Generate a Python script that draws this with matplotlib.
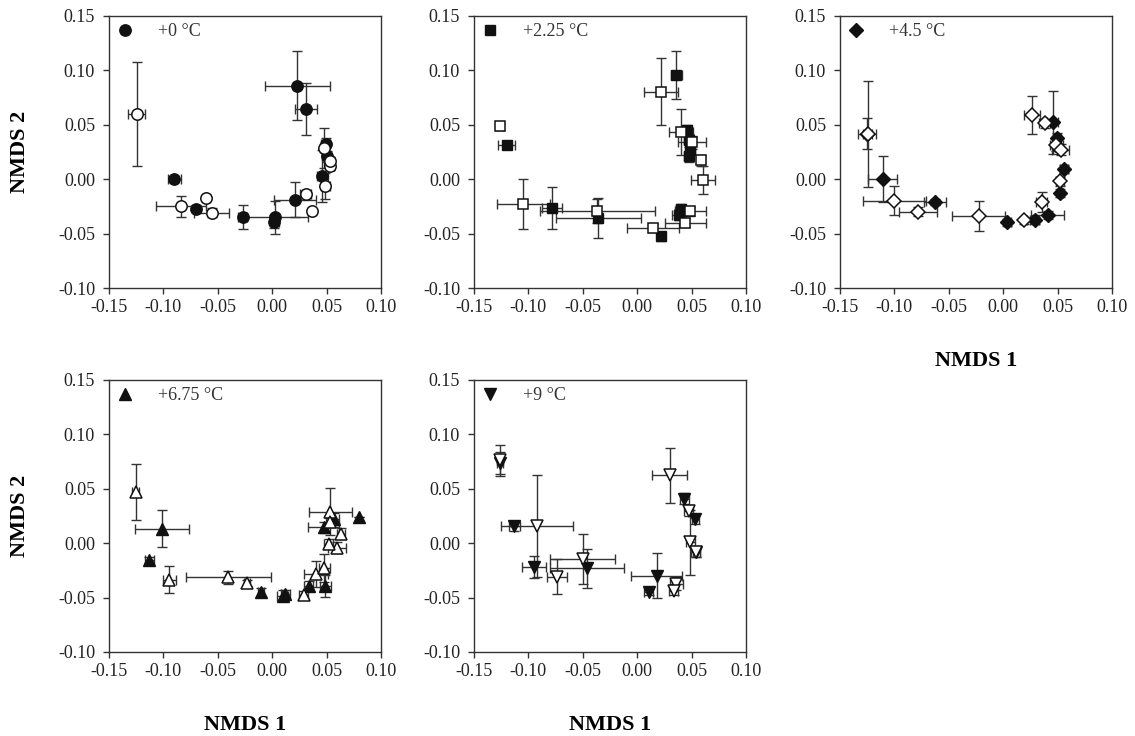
import matplotlib
matplotlib.use("Agg")
import matplotlib.pyplot as plt
from matplotlib.ticker import FormatStrFormatter, MultipleLocator
from matplotlib.lines import Line2D

plt.rcParams['font.family'] = ['Liberation Serif', 'DejaVu Serif']
plt.rcParams['axes.unicode_minus'] = False

# +0 °C (circles)
x0_fill = [0.023, 0.031, -0.090, -0.070, -0.027, 0.003, 0.002, 0.021, 0.046, 0.050, 0.049]
y0_fill = [0.086, 0.0645, 0.0003, -0.027, -0.0346, -0.035, -0.039, -0.0187, 0.003, 0.021, 0.032]
xe0_fill = [0.030, 0.0098, 0.006, 0.003, 0.004, 0.030, 0.004, 0.019, 0.005, 0.004, 0.004]
ye0_fill = [0.0315, 0.024, 0.003, 0.003, 0.011, 0.015, 0.006, 0.016, 0.024, 0.005, 0.006]
x0_open = [-0.1245, -0.0837, -0.0607, -0.0555, 0.031, 0.0365, 0.0488, 0.0534, 0.0534, 0.0473]
y0_open = [0.060, -0.0248, -0.0171, -0.0309, -0.0135, -0.0294, -0.0064, 0.0125, 0.0165, 0.0287]
xe0_open = [0.0077, 0.023, 0.003, 0.016, 0.005, 0.003, 0.004, 0.003, 0.003, 0.003]
ye0_open = [0.048, 0.0098, 0.003, 0.004, 0.004, 0.003, 0.012, 0.004, 0.004, 0.018]

# +2.25 °C (squares)
x1_fill = [0.036, -0.120, -0.0785, -0.0356, 0.022, 0.038, 0.040, 0.0457, 0.0472, 0.0472, 0.0488]
y1_fill = [0.0956, 0.0317, -0.0265, -0.0356, -0.0525, -0.0326, -0.0277, 0.0454, 0.036, 0.021, 0.027]
xe1_fill = [0.005, 0.0077, 0.009, 0.039, 0.004, 0.006, 0.004, 0.004, 0.004, 0.004, 0.004]
ye1_fill = [0.022, 0.003, 0.019, 0.018, 0.004, 0.005, 0.005, 0.004, 0.006, 0.005, 0.004]
x1_open = [-0.126, -0.1046, -0.0365, 0.022, 0.0144, 0.040, 0.0503, 0.0586, 0.0604, 0.0488, 0.0442]
y1_open = [0.0485, -0.0228, -0.029, 0.0806, -0.0448, 0.0433, 0.0338, 0.0173, -0.0005, -0.0295, -0.040]
xe1_open = [0.003, 0.024, 0.053, 0.0157, 0.0236, 0.011, 0.013, 0.004, 0.011, 0.014, 0.019]
ye1_open = [0.003, 0.023, 0.011, 0.031, 0.004, 0.021, 0.006, 0.005, 0.013, 0.004, 0.004]

# +4.5 °C (diamonds)
x2_fill = [-0.125, -0.1109, -0.0628, 0.0038, 0.029, 0.041, 0.052, 0.0558, 0.0457, 0.0494]
y2_fill = [0.042, 0.0004, -0.021, -0.0396, -0.0378, -0.033, -0.0127, 0.0094, 0.0524, 0.0378]
xe2_fill = [0.008, 0.013, 0.010, 0.003, 0.004, 0.015, 0.003, 0.004, 0.005, 0.004]
ye2_fill = [0.0145, 0.021, 0.003, 0.003, 0.003, 0.004, 0.004, 0.004, 0.029, 0.005]
x2_open = [-0.1246, -0.1002, -0.0787, -0.0225, 0.019, 0.0356, 0.0264, 0.038, 0.0488, 0.0528, 0.0522]
y2_open = [0.0417, -0.0197, -0.030, -0.034, -0.0378, -0.021, 0.0592, 0.0515, 0.0317, 0.027, -0.002]
xe2_open = [0.004, 0.029, 0.0175, 0.0245, 0.003, 0.005, 0.007, 0.005, 0.006, 0.008, 0.004]
ye2_open = [0.049, 0.013, 0.004, 0.014, 0.003, 0.009, 0.0175, 0.004, 0.006, 0.005, 0.004]

# +6.75 °C (triangles up)
x3_fill = [-0.1015, -0.113, -0.0104, 0.0098, 0.012, 0.0334, 0.0472, 0.0488, 0.0564, 0.080]
y3_fill = [0.0132, -0.0153, -0.0451, -0.0482, -0.047, -0.039, 0.0147, -0.039, 0.0224, 0.0239]
xe3_fill = [0.025, 0.004, 0.003, 0.005, 0.004, 0.004, 0.014, 0.005, 0.005, 0.0]
ye3_fill = [0.017, 0.003, 0.004, 0.005, 0.004, 0.004, 0.005, 0.010, 0.005, 0.0]
x3_open = [-0.1255, -0.0948, -0.0402, -0.0233, 0.0288, 0.0405, 0.048, 0.0534, 0.0632, 0.0595, 0.0534, 0.052]
y3_open = [0.0469, -0.0334, -0.0313, -0.0365, -0.0475, -0.0282, -0.023, 0.0291, 0.0086, -0.0043, 0.0193, -0.0004]
xe3_open = [0.003, 0.006, 0.039, 0.003, 0.004, 0.011, 0.005, 0.020, 0.004, 0.008, 0.004, 0.004]
ye3_open = [0.0255, 0.0126, 0.006, 0.003, 0.004, 0.012, 0.013, 0.022, 0.005, 0.005, 0.004, 0.004]

# +9 °C (triangles down)
x4_fill = [-0.126, -0.113, -0.0948, -0.0457, 0.018, 0.0104, 0.0433, 0.0534, 0.0543]
y4_fill = [0.074, 0.0156, -0.022, -0.023, -0.0297, -0.045, 0.0408, 0.0218, -0.0083]
xe4_fill = [0.003, 0.005, 0.011, 0.034, 0.0236, 0.004, 0.004, 0.003, 0.003]
ye4_fill = [0.010, 0.004, 0.010, 0.018, 0.0206, 0.003, 0.005, 0.004, 0.004]
x4_open = [-0.126, -0.0923, -0.0739, -0.050, 0.0298, 0.0472, 0.0488, 0.0537, 0.0359, 0.0334]
y4_open = [0.0761, 0.0156, -0.0307, -0.0144, 0.0623, 0.030, 0.0009, -0.0083, -0.0374, -0.0436]
xe4_open = [0.003, 0.033, 0.009, 0.030, 0.016, 0.004, 0.004, 0.004, 0.006, 0.004]
ye4_open = [0.014, 0.047, 0.016, 0.023, 0.025, 0.005, 0.030, 0.004, 0.006, 0.004]

labels = ['+0 °C', '+2.25 °C', '+4.5 °C', '+6.75 °C', '+9 °C']
markers = ['o', 's', 'D', '^', 'v']
msizes = [8.2, 7.4, 7.0, 8.4, 8.4]

panels = [
    (x0_fill, y0_fill, xe0_fill, ye0_fill, x0_open, y0_open, xe0_open, ye0_open),
    (x1_fill, y1_fill, xe1_fill, ye1_fill, x1_open, y1_open, xe1_open, ye1_open),
    (x2_fill, y2_fill, xe2_fill, ye2_fill, x2_open, y2_open, xe2_open, ye2_open),
    (x3_fill, y3_fill, xe3_fill, ye3_fill, x3_open, y3_open, xe3_open, ye3_open),
    (x4_fill, y4_fill, xe4_fill, ye4_fill, x4_open, y4_open, xe4_open, ye4_open),
]

W, H = 1135, 736
fig = plt.figure(figsize=(W / 100, H / 100), dpi=100)

# axes boxes in pixels: left, top
boxes = [(109, 16), (474, 16), (840, 16), (109, 380), (474, 380)]
size = 272

ink = '#111111'
for i, (xf, yf, xef, yef, xo, yo, xeo, yeo) in enumerate(panels):
    left, top = boxes[i]
    ax = fig.add_axes([left / W, 1 - (top + size) / H, size / W, size / H])
    for xs, ys, xe, ye in [(xf, yf, xef, yef), (xo, yo, xeo, yeo)]:
        ax.errorbar(xs, ys, xerr=xe, yerr=ye, fmt='none', ecolor='#333333',
                    elinewidth=1.0, capsize=3.8, capthick=1.0, zorder=2)
    ax.plot(xf, yf, linestyle='none', marker=markers[i], markersize=msizes[i],
            markerfacecolor=ink, markeredgecolor=ink, markeredgewidth=1.0, zorder=3)
    ax.plot(xo, yo, linestyle='none', marker=markers[i], markersize=msizes[i],
            markerfacecolor='white', markeredgecolor=ink, markeredgewidth=1.1, zorder=4)

    ax.set_xlim(-0.15, 0.10)
    ax.set_ylim(-0.10, 0.15)
    ax.xaxis.set_major_locator(MultipleLocator(0.05))
    ax.yaxis.set_major_locator(MultipleLocator(0.05))
    ax.xaxis.set_major_formatter(FormatStrFormatter('%.2f'))
    ax.yaxis.set_major_formatter(FormatStrFormatter('%.2f'))
    ax.tick_params(direction='out', length=4, width=1.0, color='#333333',
                   labelsize=13, labelcolor='#222222')
    ax.tick_params(axis='x', pad=4)
    ax.tick_params(axis='y', pad=6)
    for sp in ax.spines.values():
        sp.set_linewidth(1.0)
        sp.set_color('#333333')

    handle = Line2D([], [], linestyle='none', marker=markers[i], markersize=msizes[i],
                    markerfacecolor=ink, markeredgecolor=ink)
    leg = ax.legend([handle], [labels[i]], loc='upper left', frameon=False,
                    fontsize=13, handletextpad=1.3, borderaxespad=0.1,
                    borderpad=0.3, handlelength=1.0)
    for t in leg.get_texts():
        t.set_color('#333333')

    if i in (0, 3):
        ax.set_ylabel('NMDS 2', fontsize=16, fontweight='bold', labelpad=20)
    if i in (2, 3, 4):
        ax.set_xlabel('NMDS 1', fontsize=16, fontweight='bold', labelpad=25)

fig.savefig('out.png', dpi=100)
